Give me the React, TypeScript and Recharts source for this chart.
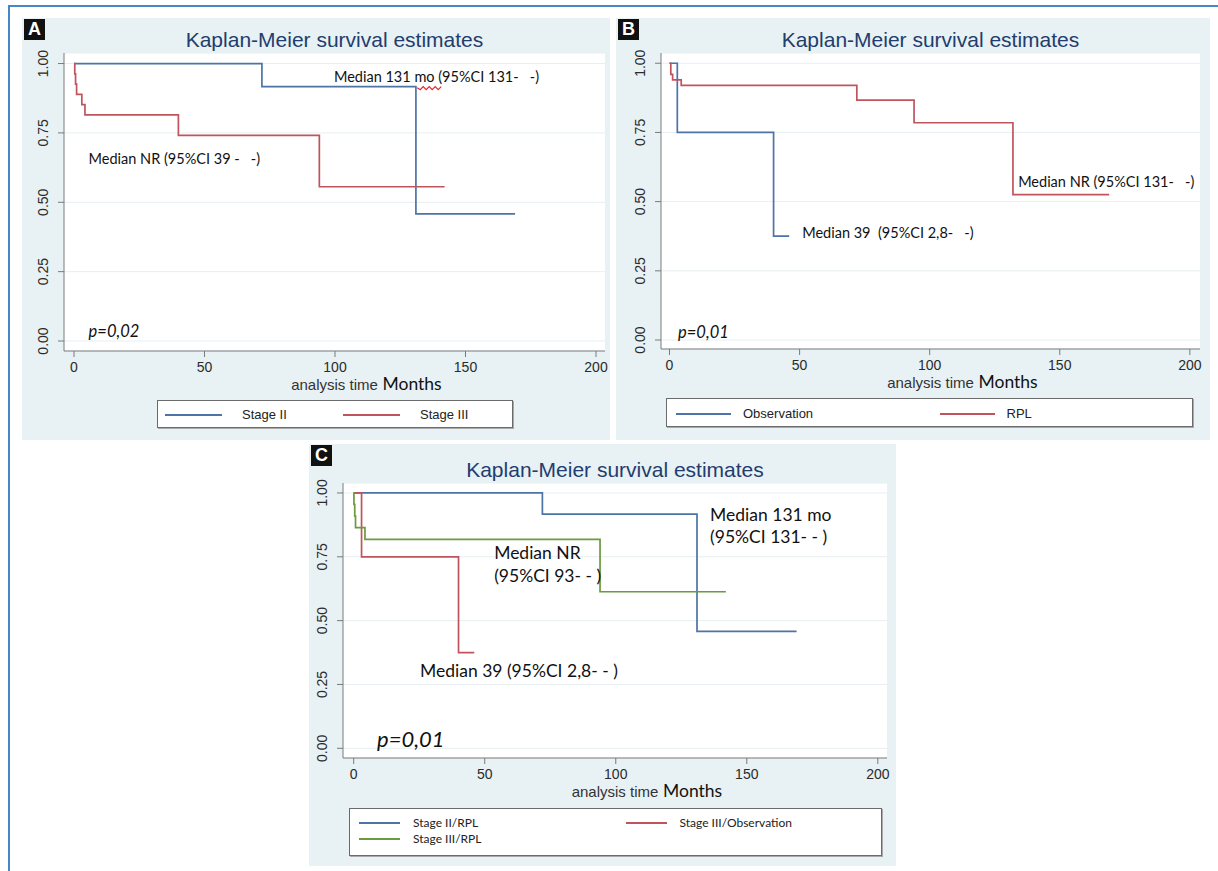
import React from "react";
import {
  CartesianGrid,
  Legend,
  Line,
  LineChart,
  ReferenceDot,
  XAxis,
  YAxis,
} from "recharts";

// Panel A: Stage II vs Stage III
const aStageIITime = [0, 72, 131, 169];
const aStageIISurv = [1, 0.917, 0.458, 0.458];
const aStageIIITime = [0, 0.3, 0.6, 1, 3, 4.2, 40, 94, 142];
const aStageIIISurv = [1, 0.963, 0.926, 0.889, 0.852, 0.815, 0.741, 0.556, 0.556];

// Panel B: Observation vs RPL
const bObsTime = [0, 3, 40, 46];
const bObsSurv = [1, 0.75, 0.375, 0.375];
const bRplTime = [0, 0.5, 1.2, 4.5, 72, 94, 132, 169];
const bRplSurv = [1, 0.96, 0.94, 0.92, 0.867, 0.785, 0.525, 0.525];

// Panel C: stage x treatment
const cStageIIRplTime = [0, 72, 131, 169];
const cStageIIRplSurv = [1, 0.917, 0.458, 0.458];
const cStageIIIObsTime = [0, 3, 40, 46];
const cStageIIIObsSurv = [1, 0.75, 0.375, 0.375];
const cStageIIIRplTime = [0, 0.1, 0.4, 0.7, 4.3, 94, 142];
const cStageIIIRplSurv = [1, 0.955, 0.909, 0.864, 0.818, 0.613, 0.613];

const xTicks = [0, 50, 100, 150, 200];
const yTicks = [0, 0.25, 0.5, 0.75, 1];

const BLUE = "#4d73a7";
const RED = "#c0545d";
const GREEN = "#6b9a3f";
const PANEL_BG = "#e8f1f3";
const GRID = "#e6eff2";
const AXIS = "#7a7a7a";
const TITLE = "#1f3d6f";

const STATA_FONT = "'Liberation Sans', Arial, sans-serif";
const NARROW_FONT = "'Liberation Sans Narrow', 'Liberation Sans', sans-serif";
const NOTE_FONT = "Lato, 'Open Sans', sans-serif";

type Pt = { t: number; s: number };
const curve = (t: number[], s: number[]): Pt[] => t.map((v, i) => ({ t: v, s: s[i] }));

type Series = { name: string; color: string; data: Pt[] };
type Note = { t: number; s: number; text: string; size: number; italic?: boolean };
type LegendCfg = {
  x: number; y: number; w: number; h: number; cols: number;
  lineX: number; lineW: number; textX: number; rowY: number[];
  font: string; size: number;
};
type PanelCfg = {
  letter: string; left: number; top: number; width: number; height: number;
  yWidth: number; margin: { top: number; right: number; bottom: number; left: number };
  xDomain: [number, number]; yDomain: [number, number];
  titleY: number; series: Series[]; notes: Note[]; legend: LegendCfg;
  squiggle?: { t: number; s: number };
};

const panels: PanelCfg[] = [
  {
    letter: "A", left: 22, top: 18, width: 588, height: 422,
    yWidth: 42, margin: { top: 35, right: 5, bottom: 49, left: 0 },
    xDomain: [-3.83, 203.45], yDomain: [-0.036, 1.038], titleY: 22,
    series: [
      { name: "Stage II", color: BLUE, data: curve(aStageIITime, aStageIISurv) },
      { name: "Stage III", color: RED, data: curve(aStageIIITime, aStageIIISurv) },
    ],
    notes: [
      { t: 99.6, s: 0.953, text: "Median 131 mo (95%CI 131-   -)", size: 14.5 },
      { t: 5.6, s: 0.657, text: "Median NR (95%CI 39 -   -)", size: 14.5 },
      { t: 5.6, s: 0.036, text: "p=0,02", size: 16.5, italic: true },
    ],
    legend: {
      x: 135, y: 382, w: 356, h: 28, cols: 2, lineX: 7, lineW: 57, textX: 84,
      rowY: [14], font: NARROW_FONT, size: 13,
    },
    squiggle: { t: 131.5, s: 0.913 },
  },
  {
    letter: "B", left: 616, top: 18, width: 594, height: 422,
    yWidth: 45, margin: { top: 35, right: 10, bottom: 51, left: 0 },
    xDomain: [-3.27, 203.9], yDomain: [-0.0325, 1.037], titleY: 22,
    series: [
      { name: "Observation", color: BLUE, data: curve(bObsTime, bObsSurv) },
      { name: "RPL", color: RED, data: curve(bRplTime, bRplSurv) },
    ],
    notes: [
      { t: 134, s: 0.572, text: "Median NR (95%CI 131-   -)", size: 14.5 },
      { t: 51, s: 0.387, text: "Median 39  (95%CI 2,8-   -)", size: 14.5 },
      { t: 3.3, s: 0.029, text: "p=0,01", size: 16.5, italic: true },
    ],
    legend: {
      x: 50, y: 380, w: 527, h: 29, cols: 2, lineX: 9, lineW: 55, textX: 76,
      rowY: [15], font: NARROW_FONT, size: 13,
    },
  },
  {
    letter: "C", left: 309, top: 444, width: 587, height: 422,
    yWidth: 34, margin: { top: 39, right: 9, bottom: 68, left: 0 },
    xDomain: [-4.08, 203.5], yDomain: [-0.038, 1.039], titleY: 26,
    series: [
      { name: "Stage II/RPL", color: BLUE, data: curve(cStageIIRplTime, cStageIIRplSurv) },
      { name: "Stage III/Observation", color: RED, data: curve(cStageIIIObsTime, cStageIIIObsSurv) },
      { name: "Stage III/RPL", color: GREEN, data: curve(cStageIIIRplTime, cStageIIIRplSurv) },
    ],
    notes: [
      { t: 136, s: 0.917, text: "Median 131 mo", size: 17.5 },
      { t: 136, s: 0.831, text: "(95%CI 131- - )", size: 17.5 },
      { t: 53.6, s: 0.765, text: "Median NR", size: 17.5 },
      { t: 53.6, s: 0.678, text: "(95%CI 93- - )", size: 17.5 },
      { t: 25.3, s: 0.304, text: "Median 39 (95%CI 2,8- - )", size: 17.5 },
      { t: 8.9, s: 0.04, text: "p=0,01", size: 22, italic: true },
    ],
    legend: {
      x: 40, y: 364, w: 533, h: 48, cols: 2, lineX: 9, lineW: 41, textX: 63,
      rowY: [14, 30], font: NOTE_FONT, size: 12,
    },
  },
];

function YTick(props: any) {
  const { x, y, payload } = props;
  const bx = x - 8;
  return (
    <text
      x={bx}
      y={y}
      transform={`rotate(-90 ${bx} ${y})`}
      textAnchor="middle"
      fontSize={14}
      fontFamily={STATA_FONT}
      fill="#2b2b2b"
    >
      {Number(payload.value).toFixed(2)}
    </text>
  );
}

function axisTitle(props: any) {
  const vb = props.viewBox ?? {};
  const cx = vb.x + vb.width / 2;
  const by = vb.y + 39;
  return (
    <g>
      <text x={cx} y={by} textAnchor="middle" fontSize={15} fontFamily={STATA_FONT} fill="#333">
        analysis time
      </text>
      <text x={cx + 48} y={by} textAnchor="start" fontSize={17.5} fontFamily={NOTE_FONT} fill="#111">
        Months
      </text>
    </g>
  );
}

function legendContent(cfg: LegendCfg) {
  return (props: any) => {
    const items = props.payload ?? [];
    const colW = cfg.w / cfg.cols;
    return (
      <div
        style={{
          position: "relative",
          width: cfg.w,
          height: cfg.h,
          boxSizing: "border-box",
          background: "#fff",
          border: "1px solid #6b6b6b",
          boxShadow: "1px 1px 0 #a9a9a9",
        }}
      >
        {items.map((it: any, i: number) => {
          const col = i % cfg.cols;
          const row = Math.floor(i / cfg.cols);
          const cy = cfg.rowY[row] ?? cfg.rowY[0];
          return (
            <React.Fragment key={it.value}>
              <div
                style={{
                  position: "absolute",
                  left: col * colW + cfg.lineX,
                  top: cy - 1,
                  width: cfg.lineW,
                  height: 2,
                  background: it.color,
                }}
              />
              <div
                style={{
                  position: "absolute",
                  left: col * colW + cfg.textX,
                  top: cy - 9,
                  height: 18,
                  lineHeight: "18px",
                  fontFamily: cfg.font,
                  fontSize: cfg.size,
                  color: "#222",
                  whiteSpace: "nowrap",
                }}
              >
                {it.value}
              </div>
            </React.Fragment>
          );
        })}
      </div>
    );
  };
}

function renderNote(n: Note, key: string) {
  return (
    <ReferenceDot
      key={key}
      x={n.t}
      y={n.s}
      r={0}
      fill="none"
      stroke="none"
      label={(p: any) => {
        const vb = p.viewBox ?? {};
        return (
          <text
            x={vb.x}
            y={vb.y}
            dominantBaseline="central"
            fontSize={n.size}
            fontFamily={NOTE_FONT}
            fontStyle={n.italic ? "italic" : "normal"}
            fill="#111"
            style={{ whiteSpace: "pre" }}
          >
            {n.text}
          </text>
        );
      }}
    />
  );
}

function squiggleShape(p: any) {
  const { cx, cy } = p;
  let d = `M${cx},${cy}`;
  for (let i = 1; i <= 8; i++) {
    d += ` L${cx + i * 3},${cy + (i % 2 ? 2 : -1)}`;
  }
  return <path d={d} fill="none" stroke="#e0262b" strokeWidth={1.2} />;
}

function Panel({ cfg }: { cfg: PanelCfg }) {
  const plotLeft = cfg.margin.left + cfg.yWidth;
  const plotW = cfg.width - plotLeft - cfg.margin.right;
  const lg = cfg.legend;
  return (
    <div
      style={{
        position: "absolute",
        left: cfg.left,
        top: cfg.top,
        width: cfg.width,
        height: cfg.height,
        background: PANEL_BG,
      }}
    >
      <LineChart width={cfg.width} height={cfg.height} margin={cfg.margin}>
        <CartesianGrid vertical={false} fill="#fff" stroke={GRID} strokeWidth={1} />
        <XAxis
          type="number"
          dataKey="t"
          domain={cfg.xDomain}
          allowDataOverflow
          ticks={xTicks}
          interval={0}
          height={40}
          tickSize={6}
          tickMargin={5}
          axisLine={{ stroke: AXIS }}
          tickLine={{ stroke: AXIS }}
          tick={{ fontSize: 14, fill: "#2b2b2b", fontFamily: STATA_FONT }}
          label={axisTitle}
        />
        <YAxis
          type="number"
          dataKey="s"
          domain={cfg.yDomain}
          allowDataOverflow
          ticks={yTicks}
          interval={0}
          width={cfg.yWidth}
          tickSize={6}
          axisLine={{ stroke: AXIS }}
          tickLine={{ stroke: AXIS }}
          tick={YTick}
        />
        {cfg.series.map((s) => (
          <Line
            key={s.name}
            name={s.name}
            data={s.data}
            dataKey="s"
            type="stepAfter"
            stroke={s.color}
            strokeWidth={1.7}
            dot={false}
            activeDot={false}
            isAnimationActive={false}
          />
        ))}
        {cfg.notes.map((n, i) => renderNote(n, `${cfg.letter}-note-${i}`))}
        {cfg.squiggle && (
          <ReferenceDot
            x={cfg.squiggle.t}
            y={cfg.squiggle.s}
            r={0}
            shape={squiggleShape}
          />
        )}
        <Legend
          layout="horizontal"
          verticalAlign="middle"
          align="center"
          wrapperStyle={{ left: lg.x, top: lg.y, width: lg.w, height: lg.h }}
          content={legendContent(lg)}
        />
      </LineChart>
      <div
        style={{
          position: "absolute",
          left: plotLeft,
          top: cfg.titleY - 13,
          width: plotW,
          height: 26,
          lineHeight: "26px",
          textAlign: "center",
          fontFamily: STATA_FONT,
          fontSize: 21,
          color: TITLE,
          whiteSpace: "nowrap",
        }}
      >
        Kaplan-Meier survival estimates
      </div>
      <div
        style={{
          position: "absolute",
          left: 2,
          top: 1,
          width: 21,
          height: 21,
          background: "#111",
          color: "#fff",
          fontFamily: STATA_FONT,
          fontWeight: "bold",
          fontSize: 18,
          lineHeight: "21px",
          textAlign: "center",
        }}
      >
        {cfg.letter}
      </div>
    </div>
  );
}

export default function App() {
  return (
    <div
      style={{
        position: "absolute",
        left: 0,
        top: 0,
        width: 1218,
        height: 871,
        background: "#fff",
        overflow: "hidden",
      }}
    >
      <div
        style={{
          position: "absolute",
          left: 8,
          top: 5,
          width: 1220,
          height: 880,
          borderTop: "2px solid #4a85c6",
          borderLeft: "2px solid #4a85c6",
        }}
      />
      {panels.map((p) => (
        <Panel key={p.letter} cfg={p} />
      ))}
    </div>
  );
}
